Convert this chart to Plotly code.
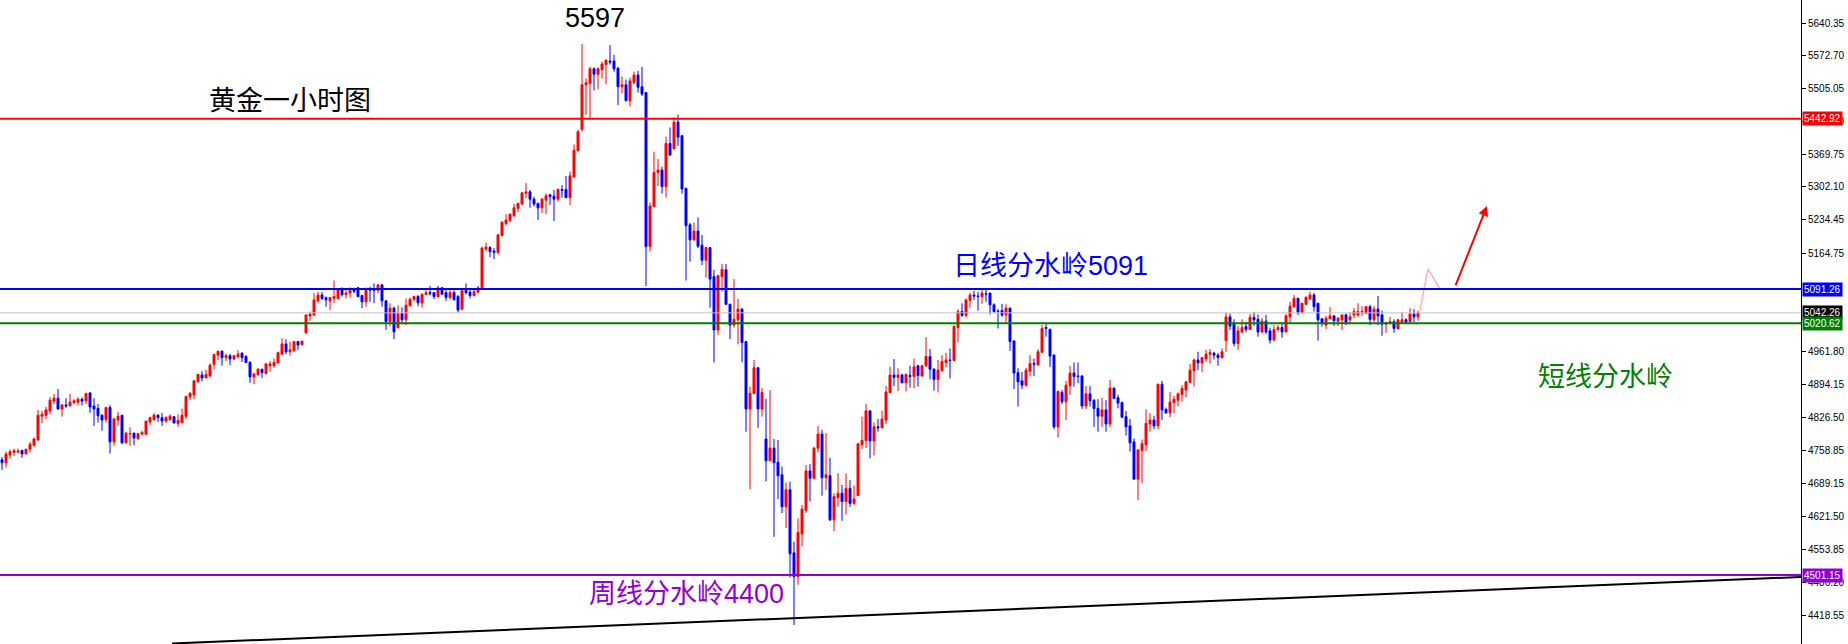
import plotly.graph_objects as go

# ---------------- candle data (hourly gold, oldest -> newest) ----------------
open_ = [
    4739,4733,4749,4754,4755,4758,4751,4761,4769,4780,
    4829,4831,4840,4860,4866,4844,4852,4851,4857,4858,
    4864,4861,4877,4850,4845,4831,4822,4847,4776,4821,
    4831,4774,4792,4794,4783,4792,4792,4817,4822,4831,
    4826,4819,4822,4828,4814,4816,4829,4869,4873,4900,
    4914,4908,4912,4936,4955,4963,4950,4954,4947,4952,
    4959,4952,4940,4910,4915,4926,4917,4933,4933,4939,
    4957,4978,4962,4964,4983,4977,5001,5036,5038,5067,
    5079,5074,5067,5072,5072,5091,5080,5083,5089,5094,
    5078,5065,5093,5091,5089,5100,5067,5024,5052,5012,
    5041,5028,5057,5070,5076,5063,5080,5084,5084,5076,
    5094,5084,5074,5084,5076,5050,5089,5085,5078,5085,
    5094,5174,5177,5170,5167,5202,5227,5233,5243,5258,
    5267,5289,5292,5277,5268,5259,5275,5286,5283,5277,
    5297,5297,5280,5323,5377,5421,5513,5516,5546,5535,
    5544,5555,5562,5562,5547,5509,5513,5480,5518,5533,
    5509,5497,5179,5262,5332,5337,5303,5392,5381,5436,
    5408,5299,5224,5193,5211,5182,5151,5177,5117,5007,
    5117,5131,5060,5017,5028,5050,4983,4844,4876,4929,
    4844,4782,4737,4763,4734,4708,4642,4677,4547,4498,
    4586,4635,4716,4701,4763,4792,4702,4706,4615,4661,
    4670,4653,4680,4649,4665,4770,4779,4840,4778,4807,
    4805,4821,4878,4914,4909,4914,4898,4913,4911,4933,
    4912,4933,4952,4926,4905,4923,4940,4945,4944,5012,
    5045,5037,5068,5079,5077,5076,5082,5083,5059,5046,
    5047,5038,5052,4984,4919,4902,4893,4922,4938,4935,
    4961,5012,5008,4955,4807,4878,4859,4892,4918,4912,
    4912,4850,4875,4862,4845,4829,4842,4813,4887,4867,
    4857,4828,4809,4776,4699,4758,4770,4813,4821,4809,
    4895,4843,4836,4857,4862,4874,4883,4899,4923,4945,
    4939,4947,4957,4959,4955,4950,4985,5034,5021,4979,
    5003,5014,5008,5033,5029,5003,5025,5005,4986,5008,
    5012,5003,5034,5055,5072,5043,5060,5071,5079,5062,
    5030,5017,5030,5036,5025,5028,5038,5028,5038,5038,
    5043,5041,5055,5028,5050,5038,5019,5021,5024,5010,
    5023,5028,5024,5040,5034,
]
high = [
    4745,4756,4760,4762,4762,4760,4761,4776,4785,4842,
    4840,4848,4868,4875,4885,4854,4866,4875,4864,4868,
    4868,4877,4879,4866,4854,4833,4848,4852,4826,4838,
    4831,4797,4806,4795,4793,4799,4819,4828,4835,4833,
    4836,4829,4833,4829,4833,4845,4870,4879,4903,4917,
    4922,4925,4938,4958,4964,4965,4958,4957,4955,4965,
    4961,4955,4943,4919,4928,4926,4938,4943,4948,4962,
    4990,4988,4983,4983,4984,4984,5038,5045,5083,5086,
    5085,5076,5074,5109,5093,5095,5091,5095,5094,5096,
    5079,5094,5096,5103,5102,5102,5069,5062,5055,5058,
    5054,5072,5074,5078,5079,5083,5089,5098,5085,5098,
    5096,5089,5089,5089,5079,5089,5103,5089,5093,5098,
    5179,5187,5180,5176,5205,5232,5246,5247,5267,5270,
    5292,5310,5296,5282,5270,5279,5289,5287,5296,5299,
    5306,5325,5334,5390,5420,5597,5526,5550,5549,5549,
    5561,5566,5595,5575,5550,5530,5524,5528,5540,5542,
    5550,5498,5270,5375,5360,5344,5406,5425,5446,5451,
    5409,5301,5228,5229,5239,5203,5179,5178,5131,5120,
    5143,5143,5061,5112,5071,5052,4984,4890,4945,4930,
    4887,4865,4883,4782,4780,4725,4692,4694,4570,4618,
    4646,4728,4730,4766,4809,4801,4794,4743,4670,4711,
    4687,4711,4697,4686,4774,4828,4854,4841,4816,4823,
    4840,4891,4931,4947,4928,4917,4917,4933,4948,4935,
    4935,4992,4968,4928,4945,4955,4960,4969,5017,5050,
    5062,5072,5084,5088,5086,5090,5091,5084,5062,5050,
    5061,5060,5053,4986,4928,4920,4929,4955,4948,4967,
    5017,5019,5010,4957,4882,4883,4902,4933,4940,4940,
    4914,4891,4891,4864,4864,4867,4862,4904,4888,4873,
    4859,4840,4823,4783,4761,4781,4843,4835,4830,4896,
    4902,4847,4879,4871,4878,4893,4902,4937,4948,4962,
    4950,4966,4968,4962,4959,4969,5043,5041,5029,5015,
    5029,5024,5040,5044,5039,5032,5038,5012,5017,5017,
    5023,5040,5065,5079,5074,5063,5077,5086,5083,5063,
    5031,5036,5054,5037,5034,5039,5041,5043,5052,5062,
    5056,5056,5059,5056,5077,5047,5023,5034,5029,5029,
    5043,5031,5052,5050,5047,
]
low = [
    4718,4723,4741,4747,4752,4743,4751,4754,4766,4778,
    4814,4823,4833,4854,4842,4828,4846,4848,4854,4851,
    4851,4854,4836,4809,4816,4799,4816,4752,4768,4809,
    4771,4773,4768,4769,4780,4789,4790,4811,4820,4817,
    4809,4815,4820,4814,4807,4814,4823,4862,4864,4898,
    4901,4908,4910,4926,4945,4933,4943,4934,4945,4948,
    4941,4938,4898,4895,4912,4908,4915,4921,4929,4938,
    4955,4957,4954,4962,4966,4974,4999,5026,5036,5063,
    5069,5055,5048,5062,5070,5076,5072,5074,5083,5074,
    5052,5055,5065,5062,5083,5055,5007,5014,4988,5010,
    5019,5017,5055,5066,5056,5053,5079,5078,5071,5074,
    5079,5067,5070,5067,5043,5048,5080,5072,5076,5084,
    5093,5170,5157,5153,5163,5200,5222,5229,5240,5250,
    5265,5279,5259,5262,5234,5248,5246,5265,5232,5272,
    5280,5280,5265,5321,5375,5416,5451,5444,5501,5504,
    5526,5514,5555,5540,5471,5495,5479,5468,5514,5497,
    5490,5098,5169,5260,5304,5288,5280,5366,5380,5387,
    5288,5109,5148,5191,5176,5141,5115,5053,4940,4997,
    5086,5059,4988,5012,4977,4940,4797,4678,4875,4805,
    4828,4694,4737,4580,4658,4629,4598,4496,4398,4481,
    4560,4629,4653,4699,4754,4665,4677,4613,4592,4642,
    4613,4626,4642,4646,4664,4761,4763,4742,4748,4797,
    4804,4813,4877,4891,4881,4897,4880,4888,4887,4890,
    4911,4931,4905,4882,4878,4921,4930,4907,4943,4981,
    5034,5033,5053,5069,5047,5061,5065,5039,5043,5010,
    5034,5022,4964,4885,4849,4885,4890,4911,4912,4933,
    4960,4993,4931,4802,4785,4854,4821,4873,4890,4897,
    4844,4844,4849,4807,4797,4807,4797,4807,4864,4845,
    4825,4789,4756,4698,4656,4690,4757,4797,4802,4802,
    4821,4834,4827,4835,4849,4859,4868,4897,4890,4924,
    4920,4941,4938,4946,4933,4948,4962,5007,4973,4966,
    5000,5002,5007,5015,4993,5000,4999,4979,4985,5003,
    4991,5002,5021,5052,5038,5041,5059,5069,5045,4985,
    5014,5009,5029,5015,5015,5007,5017,5019,5031,5034,
    5036,5040,5017,5024,5017,4995,5001,5019,5001,5007,
    5021,5019,5023,5023,5026,
]
close = [
    4733,4751,4756,4758,4757,4751,4761,4771,4782,4831,
    4833,4842,4862,4866,4844,4852,4850,4858,4861,4864,
    4860,4876,4848,4844,4830,4821,4847,4776,4823,4829,
    4774,4794,4793,4784,4793,4795,4819,4826,4831,4826,
    4819,4826,4829,4815,4820,4831,4870,4876,4902,4915,
    4908,4915,4934,4956,4963,4950,4954,4947,4954,4957,
    4950,4940,4910,4916,4926,4919,4937,4937,4940,4960,
    4978,4962,4966,4983,4976,4984,5038,5040,5069,5079,
    5072,5069,5074,5076,5091,5080,5083,5089,5087,5076,
    5065,5093,5089,5089,5100,5067,5024,5052,5003,5041,
    5028,5058,5070,5076,5063,5080,5084,5082,5076,5094,
    5081,5074,5084,5070,5048,5088,5084,5078,5086,5094,
    5176,5178,5169,5167,5203,5229,5234,5246,5259,5268,
    5290,5292,5277,5267,5259,5277,5284,5282,5277,5297,
    5295,5280,5325,5378,5416,5513,5517,5546,5535,5546,
    5556,5563,5560,5546,5509,5513,5480,5521,5533,5508,
    5494,5179,5263,5332,5337,5303,5392,5368,5436,5405,
    5298,5222,5193,5211,5180,5151,5177,5112,5007,5119,
    5132,5060,5017,5029,5050,4981,4844,4876,4929,4844,
    4878,4737,4763,4733,4706,4642,4677,4545,4498,4589,
    4637,4716,4701,4763,4792,4702,4708,4615,4663,4670,
    4653,4680,4649,4658,4772,4779,4840,4778,4807,4805,
    4823,4879,4914,4909,4914,4898,4915,4911,4931,4913,
    4933,4952,4926,4905,4924,4942,4945,4944,5014,5045,
    5037,5069,5079,5077,5076,5083,5081,5059,5045,5045,
    5038,5052,4983,4918,4900,4893,4924,4938,4936,4962,
    5010,5010,4953,4807,4880,4859,4893,4918,4911,4911,
    4850,4875,4861,4845,4829,4842,4813,4887,4866,4856,
    4827,4807,4774,4699,4759,4772,4814,4821,4809,4895,
    4842,4836,4858,4864,4875,4886,4900,4924,4945,4939,
    4950,4957,4960,4955,4950,4962,5034,5015,4979,5005,
    5012,5008,5033,5028,5003,5025,5003,4986,5008,5012,
    5003,5036,5056,5072,5043,5062,5074,5079,5055,5028,
    5021,5031,5036,5026,5031,5038,5022,5034,5045,5045,
    5045,5055,5029,5050,5036,5019,5022,5024,5010,5028,
    5028,5023,5040,5034,5042,
]
bar_index = list(range(len(close)))

# ---------------- horizontal levels ----------------
level_values = [5442.92, 5091.26, 5042.26, 5020.62, 4501.15]
level_colors = ["#FF0000", "#0000FF", "#C0C0C0", "#008000", "#9400D3"]
level_widths = [2, 2, 1, 2, 2]
level_label_bg = ["#FF0000", "#0000FF", "#000000", "#008000", "#9400D3"]

# ---------------- price axis ticks ----------------
tick_values = [5640.35, 5572.70, 5505.05, 5437.40, 5369.75, 5302.10, 5234.45, 5164.75,
               4961.80, 4894.15, 4826.50, 4758.85, 4689.15, 4621.50, 4553.85, 4486.20, 4418.55]
tick_labels = ["%.2f" % v for v in tick_values]

# ---------------- drawn objects ----------------
trend_x = [42.5, 449.75]
trend_y = [4359.8, 4497.1]
zigzag_x = [354.5, 356.5, 359.5]
zigzag_y = [5048, 5133, 5091]
arrow_from = (363.25, 5096)
arrow_to = (371.25, 5263)

texts = ["5597", "黄金一小时图", "日线分水岭5091", "短线分水岭", "周线分水岭4400"]
text_x = [148.25, 72, 262, 400.75, 171]
text_y = [5651, 5479, 5139, 4910, 4462]
text_colors = ["#000000", "#000000", "#0000FF", "#008000", "#9400D3"]

fig = go.Figure()
fig.add_trace(go.Candlestick(
    x=bar_index, open=open_, high=high, low=low, close=close,
    increasing=dict(line=dict(color="#FF0000", width=1), fillcolor="#FF0000"),
    decreasing=dict(line=dict(color="#0000FF", width=1), fillcolor="#0000FF"),
    whiskerwidth=0, showlegend=False, hoverinfo="skip",
))

fig.add_trace(go.Scatter(x=trend_x, y=trend_y, mode="lines",
                         line=dict(color="#000000", width=2), showlegend=False, hoverinfo="skip"))
fig.add_trace(go.Scatter(x=zigzag_x, y=zigzag_y, mode="lines",
                         line=dict(color="rgba(255,80,80,0.45)", width=1.5), showlegend=False, hoverinfo="skip"))

shapes = []
for v, c, w in zip(level_values, level_colors, level_widths):
    shapes.append(dict(type="line", xref="paper", x0=0, x1=1, yref="y", y0=v, y1=v,
                       line=dict(color=c, width=w), layer="above"))

annotations = []
for v, bg in zip(level_values, level_label_bg):
    annotations.append(dict(xref="paper", x=1, xanchor="left", xshift=1, yref="y", y=v,
                            text="%.2f" % v, showarrow=False, bgcolor=bg, borderpad=1,
                            font=dict(family="Liberation Sans", size=10, color="#FFFFFF")))
for t, tx, ty, tc in zip(texts, text_x, text_y, text_colors):
    annotations.append(dict(xref="x", x=tx, yref="y", y=ty, text=t, showarrow=False,
                            xanchor="center", yanchor="middle",
                            font=dict(family="Liberation Sans, Noto Sans CJK SC", size=27, color=tc)))
annotations.append(dict(xref="x", yref="y", x=arrow_to[0], y=arrow_to[1],
                        axref="x", ayref="y", ax=arrow_from[0], ay=arrow_from[1],
                        text="", showarrow=True, arrowhead=2, arrowsize=1, arrowwidth=2,
                        arrowcolor="#FF0000"))

fig.update_layout(
    width=1848, height=644,
    margin=dict(l=0, r=47, t=0, b=0),
    paper_bgcolor="#FFFFFF", plot_bgcolor="#FFFFFF",
    hovermode=False,
    shapes=shapes, annotations=annotations,
    xaxis=dict(range=[-0.5, 449.75], visible=False, rangeslider=dict(visible=False),
               showgrid=False, zeroline=False),
    yaxis=dict(range=[4358.8, 5688], side="right", showgrid=False, zeroline=False,
               showline=True, linecolor="#000000", linewidth=1,
               ticks="outside", ticklen=4, tickcolor="#000000",
               tickvals=tick_values, ticktext=tick_labels,
               tickfont=dict(family="Liberation Sans", size=10, color="#000000")),
)

fig.write_html("out.html", config={"displayModeBar": False},
               post_script="document.body.style.margin='0';document.body.style.overflow='hidden';")
